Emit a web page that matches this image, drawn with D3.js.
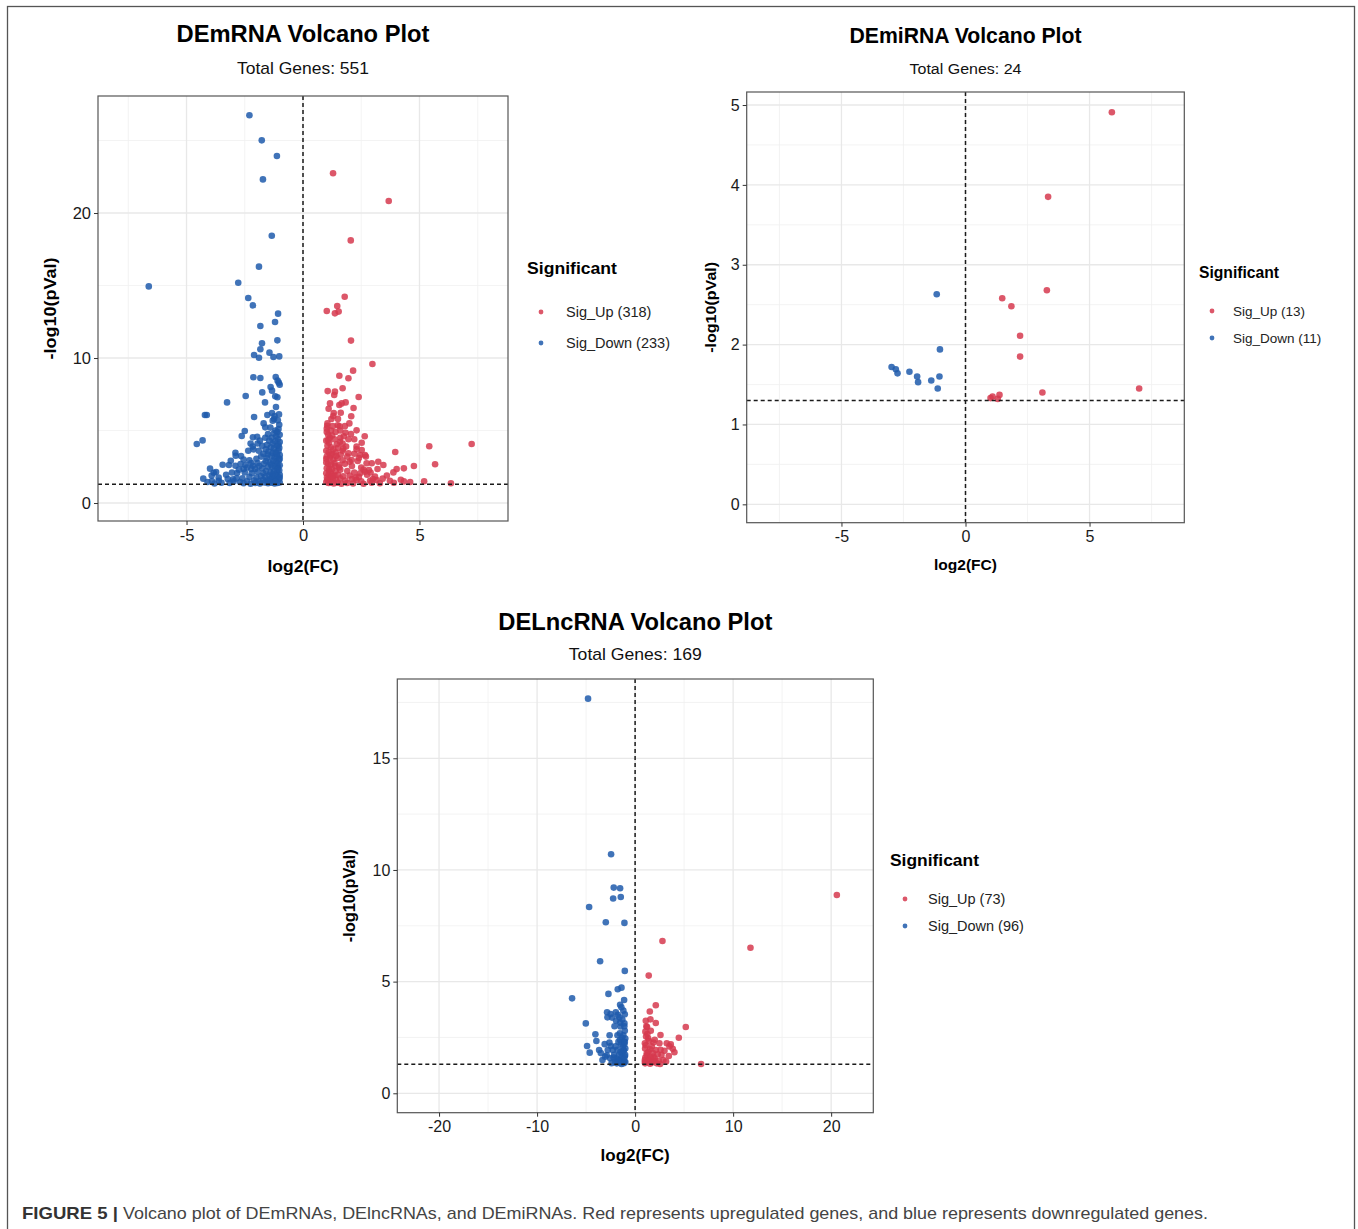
<!DOCTYPE html>
<html>
<head>
<meta charset="utf-8">
<script src="https://cdn.jsdelivr.net/npm/d3@7"></script>
<style>
  body { margin: 0; background: #fff; }
  svg text { font-family: "Liberation Sans", Arial, Helvetica, sans-serif; }
  .axis path { display: none; }
  .axis line { stroke: #333; }
  .axis text { fill: #1a1a1a; }
</style>
</head>
<body>
<div id="fig"></div>
<script>
// ---- data (log2FC, -log10 pVal) ----
const mrnaUp = [
  [1.29,22.74],[3.68,20.83],[2.05,18.11],[1.79,14.23],[1.47,13.59],[1.02,13.24],[1.37,13.08],[1.53,13.2],
  [2.06,11.2],[2.98,9.59],[2.15,9.13],[1.56,8.78],[1.95,8.6],[1.06,7.72],[1.37,7.68],[1.34,7.45],[1.7,7.91],
  [2.39,7.31],[1.16,6.87],[1.56,6.76],[1.66,6.87],[1.83,6.94],[1.32,6.21],[1.62,6.23],[2.17,6.55],[2.07,5.98],
  [1.22,5.79],[1.49,5.36],[1.57,5.29],[1.99,5.49],[1.04,5.33],[1.02,5.13],[2.3,5.01],[2.65,4.6],[2.52,4.16],
  [1.83,4.85],[2.06,4.76],[3.96,3.52],[5.42,3.91],[7.24,4.07],[5.67,2.67],[4.76,2.55],[4.33,2.39],[4.02,2.34],
  [3.88,2.11],[3.45,2.62],[3.23,2.85],[2.95,2.74],[2.73,2.74],[2.83,2.28],[2.66,2.16],[3.09,1.82],[3.42,1.68],
  [3.73,1.54],[4.33,1.49],[6.35,1.36],[3.16,1.59],[2.88,1.54],[2.3,1.59],[2.45,2.05],[2.45,3.31],[2.66,3.31],
  [2.3,3.89],[2.52,3.66],[2.09,2.97],[1.95,3.43],[1.73,3.75],[1.59,4.23],
  [1.02,4.9],[1.08,4.7],[1.15,4.5],[1.25,4.65],[1.35,4.4],[1.0,4.3],[1.12,4.15],[1.45,4.05],[1.6,4.5],[1.7,4.1],
  [1.05,3.95],[1.2,3.85],[1.3,3.7],[1.5,3.8],[1.85,3.9],[1.0,3.6],[1.1,3.5],[1.25,3.4],[1.4,3.5],[1.62,3.35],
  [1.9,3.2],[2.2,3.4],[1.02,3.2],[1.15,3.1],[1.3,3.0],[1.48,3.1],[1.7,2.95],[2.0,2.85],[2.35,2.9],[1.0,2.8],
  [1.08,2.7],[1.2,2.65],[1.35,2.75],[1.55,2.6],[1.8,2.7],[2.1,2.55],[2.5,2.45],[1.02,2.4],[1.12,2.3],[1.25,2.35],
  [1.4,2.2],[1.6,2.3],[1.9,2.2],[2.2,2.1],[2.6,2.3],[1.0,2.05],[1.1,1.95],[1.22,2.0],[1.35,1.9],[1.5,1.95],
  [1.72,1.85],[2.0,1.9],[2.4,1.8],[2.75,1.95],[1.03,1.75],[1.15,1.65],[1.28,1.7],[1.42,1.6],[1.6,1.7],[1.82,1.55],
  [2.1,1.65],[2.5,1.5],[2.95,1.4],[1.0,1.45],[1.1,1.38],[1.2,1.42],[1.32,1.35],[1.48,1.4],[1.65,1.33],[1.9,1.38],
  [2.15,1.35],[2.6,1.33],[3.3,1.36],[3.9,1.4],[4.6,1.45],[1.05,5.5],[1.2,5.0],[1.4,4.9],[1.75,4.6],[1.3,6.0],
  [1.1,6.5],[1.5,5.8],[1.8,5.3],[2.2,4.4],[2.4,3.1],[2.9,2.1],[3.2,2.35],[3.6,1.9],[4.2,1.6],[5.2,1.5],
  [1.0,3.05],[1.15,2.15],[1.38,2.55],[1.05,1.6],[1.25,1.85],[1.55,2.45],[1.7,3.6],[1.95,4.4],[2.3,3.7],[1.18,3.3],
  [1.42,3.25],[1.08,4.35],[1.28,5.3],[1.6,5.0],[2.7,3.2],[3.0,1.65],[2.25,1.75]
];
const mrnaDown = [
  [-2.3,26.74],[-1.77,25.01],[-1.12,23.93],[-1.72,22.32],[-1.34,18.43],[-1.89,16.3],[-2.78,15.19],[-6.62,14.94],
  [-2.35,14.14],[-2.15,13.63],[-1.07,13.06],[-1.2,12.48],[-1.83,12.21],[-1.1,11.22],[-1.76,11.01],[-1.83,10.6],
  [-2.1,10.21],[-1.89,10.02],[-1.44,10.37],[-1.27,10.07],[-1.02,10.11],[-2.13,8.67],[-1.83,8.62],[-1.17,8.69],
  [-1.09,8.44],[-1.04,8.3],[-1.0,8.16],[-1.39,8.0],[-1.33,7.75],[-1.75,7.63],[-1.19,7.36],[-1.1,7.29],[-2.46,7.38],
  [-3.26,6.94],[-1.63,6.94],[-1.16,6.62],[-4.21,6.07],[-4.13,6.07],[-2.1,5.93],[-1.53,6.07],[-1.33,6.21],[-1.03,6.11],
  [-1.3,5.68],[-1.24,5.79],[-1.69,5.49],[-1.62,5.22],[-2.5,4.97],[-2.63,4.62],[-2.15,4.53],[-1.97,4.57],[-4.31,4.32],
  [-4.56,4.07],[-2.9,3.47],[-2.89,3.26],[-2.16,3.89],[-2.13,3.7],[-2.66,3.24],[-3.45,2.64],[-3.99,2.37],[-3.83,2.09],
  [-3.73,2.14],[-3.92,1.89],[-4.28,1.68],[-3.91,1.52],[-3.62,1.54],[-3.62,1.75],[-3.23,1.66],[-3.0,1.63],[-2.98,1.49],
  [-3.1,2.92],[-3.18,2.62],[-2.9,2.57],[-2.68,2.69],[-2.83,2.07],[-2.55,2.34],[-2.47,2.62],[-2.22,2.76],[-2.15,2.57],
  [-2.22,2.34],
  [-1.02,5.4],[-1.05,5.1],[-1.1,4.9],[-1.0,4.7],[-1.15,4.6],[-1.25,4.8],[-1.35,4.5],[-1.08,4.4],[-1.0,4.2],[-1.2,4.25],
  [-1.3,4.1],[-1.45,4.3],[-1.55,4.0],[-1.12,3.95],[-1.02,3.8],[-1.25,3.75],[-1.38,3.85],[-1.6,3.7],[-1.75,3.95],
  [-1.05,3.6],[-1.18,3.5],[-1.3,3.45],[-1.48,3.55],[-1.7,3.4],[-1.9,3.6],[-1.0,3.3],[-1.1,3.2],[-1.22,3.15],
  [-1.35,3.25],[-1.55,3.1],[-1.8,3.2],[-2.0,3.05],[-1.03,2.95],[-1.15,2.85],[-1.28,2.9],[-1.42,2.8],[-1.6,2.9],
  [-1.68,2.7],[-1.95,2.75],[-2.3,2.95],[-1.0,2.6],[-1.08,2.5],[-1.2,2.55],[-1.33,2.45],[-1.5,2.5],[-1.75,2.4],
  [-1.88,2.55],[-2.05,2.35],[-2.4,2.45],[-1.02,2.25],[-1.12,2.15],[-1.25,2.2],[-1.4,2.1],[-1.58,2.2],[-1.7,2.05],
  [-1.95,2.15],[-2.2,2.05],[-2.5,2.1],[-1.0,1.95],[-1.1,1.85],[-1.2,1.9],[-1.32,1.8],[-1.45,1.9],[-1.62,1.8],
  [-1.8,1.85],[-2.0,1.75],[-2.3,1.8],[-2.6,1.7],[-1.03,1.65],[-1.15,1.6],[-1.28,1.55],[-1.4,1.65],[-1.55,1.55],
  [-1.72,1.6],[-1.9,1.5],[-2.1,1.55],[-2.4,1.5],[-2.7,1.45],[-1.0,1.42],[-1.1,1.38],[-1.22,1.35],[-1.35,1.4],
  [-1.5,1.36],[-1.65,1.42],[-1.85,1.35],[-2.05,1.38],[-2.25,1.33],[-2.55,1.36],[-1.05,4.0],[-1.18,5.0],[-1.4,5.2],
  [-1.08,5.7],[-1.22,6.0],[-1.5,4.75],[-1.85,4.3],[-2.25,4.1],[-2.35,3.6],[-2.55,3.0],[-2.75,2.3],[-3.05,2.1],
  [-3.3,1.95],[-3.5,1.4],[-3.8,1.35],[-4.1,1.45],[-3.15,1.38],[-2.85,1.7],[-1.95,4.1],[-1.62,4.5],[-1.0,3.05],
  [-1.1,2.7],[-1.3,2.0],[-1.0,1.75],[-1.2,1.5],[-1.45,1.5],[-1.08,2.35],[-1.38,2.65],[-1.52,3.35],[-1.12,3.4]
];
const mirnaUp = [
  [5.9,4.91],[3.33,3.85],[3.28,2.68],[1.48,2.58],[1.85,2.48],[2.2,2.11],[2.2,1.85],
  [7.0,1.45],[3.1,1.4],[1.37,1.37],[1.09,1.35],[1.01,1.33],[1.3,1.32]
];
const mirnaDown = [
  [-1.16,2.63],[-1.03,1.94],[-2.98,1.72],[-2.81,1.69],[-2.74,1.64],[-2.26,1.66],
  [-1.95,1.6],[-1.91,1.53],[-1.38,1.55],[-1.05,1.6],[-1.12,1.45]
];
const lncUp = [
  [20.58,8.88],[11.77,6.52],[2.79,6.82],[1.39,5.27],[2.11,3.94],[1.5,3.66],[5.17,2.97],[4.46,2.49],[6.73,1.31],
  [1.09,3.25],[1.56,3.31],[2.11,3.15],[1.22,2.97],[1.05,2.76],[2.59,2.61],[1.33,2.46],[1.87,2.27],[2.48,2.24],
  [3.23,2.24],[3.64,2.19],[3.84,1.99],[4.01,1.84],[3.44,1.67],[2.69,1.72],[2.11,1.94],[1.53,1.97],[1.02,2.01],
  [1.19,1.79],[1.87,1.64],[2.89,1.49],[2.21,1.34],[1.53,1.32],[1.02,1.34],[2.55,1.31],[3.16,1.42],[1.0,1.49],
  [1.36,1.54],[1.94,1.45],[1.0,2.24],[1.12,2.54],
  [1.05,1.6],[1.2,1.7],[1.35,1.85],[1.6,1.6],[1.8,1.8],[2.0,1.55],[2.3,1.75],[2.6,1.95],[1.1,2.15],[1.4,2.35],
  [1.7,2.1],[2.0,2.4],[1.25,2.65],[1.6,2.8],[1.0,1.4],[1.4,1.45],[1.7,1.38],[2.4,1.45],[3.0,1.9],[3.5,2.1],[1.15,3.0]
];
const lncDown = [
  [-4.8,17.67],[-2.45,10.7],[-2.18,9.21],[-1.53,9.18],[-2.24,8.72],[-1.46,8.79],[-4.69,8.34],[-2.99,7.66],
  [-1.09,7.63],[-3.57,5.91],[-1.05,5.48],[-6.43,4.25],[-2.72,4.45],[-1.77,4.66],[-1.39,4.73],[-1.12,4.18],
  [-1.53,3.96],[-2.86,3.63],[-2.82,3.4],[-2.35,3.39],[-1.97,3.63],[-1.77,3.51],[-1.05,3.54],[-1.94,3.25],
  [-1.53,3.16],[-1.09,3.13],[-1.5,2.99],[-5.03,3.13],[-4.05,2.64],[-3.95,2.34],[-3.67,1.94],[-4.9,2.12],
  [-4.63,1.82],[-3.33,1.49],[-3.06,1.64],[-2.62,2.27],[-2.48,2.12],[-2.28,1.94],[-1.56,2.69],[-1.53,2.39],
  [-1.16,2.31],[-1.19,1.94],[-1.02,1.72],[-1.53,1.49],[-1.87,1.34],[-1.39,1.31],[-1.09,1.42],[-2.14,1.72],
  [-2.79,1.94],[-2.55,1.57],
  [-1.05,2.8],[-1.2,2.6],[-1.35,2.5],[-1.0,2.45],[-1.1,2.2],[-1.25,2.1],[-1.45,2.2],[-1.7,2.3],[-1.0,2.0],
  [-1.15,1.9],[-1.3,1.8],[-1.5,1.85],[-1.8,1.95],[-2.0,2.1],[-1.05,1.65],[-1.2,1.55],[-1.4,1.6],[-1.65,1.7],
  [-1.9,1.55],[-2.2,1.6],[-1.0,1.4],[-1.15,1.35],[-1.3,1.42],[-1.55,1.38],[-1.75,1.45],[-2.05,1.4],[-2.4,1.35],
  [-1.1,3.0],[-1.3,3.3],[-1.6,3.4],[-2.1,3.0],[-2.6,2.6],[-3.1,2.2],[-3.5,1.8],[-2.9,1.7],[-1.2,3.7],[-1.4,3.85],
  [-2.5,3.55],[-1.8,2.6],[-1.05,2.3]
];

const panelTitles = ["DEmRNA Volcano Plot", "DEmiRNA Volcano Plot", "DELncRNA Volcano Plot"];
const totalGenes = [551, 24, 169];
const upCounts = [318, 13, 73];
const downCounts = [233, 11, 96];
const xTicks = [[-5, 0, 5], [-5, 0, 5], [-20, -10, 0, 10, 20]];
const xMinor = [[-7.5, -2.5, 2.5, 7.5], [-7.5, -2.5, 2.5, 7.5], [-15, -5, 5, 15]];
const yTicks = [[0, 10, 20], [0, 1, 2, 3, 4, 5], [0, 5, 10, 15]];
const yMinor = [[5, 15, 25], [0.5, 1.5, 2.5, 3.5, 4.5], [2.5, 7.5, 12.5, 17.5]];
const pThreshold = -Math.log10(0.05);

const RED = "#d63a4f", BLUE = "#1f5aab";

const W = 1358, H = 1229;
const svg = d3.select("#fig").append("svg").attr("width", W).attr("height", H);
svg.append("rect").attr("width", W).attr("height", H).attr("fill", "#fff");
// figure frame
svg.append("rect").attr("x", 7.5).attr("y", 6.5).attr("width", 1347).attr("height", 1240)
  .attr("fill", "none").attr("stroke", "#555").attr("stroke-width", 1.3);

// layout of each panel (pixel box, domains, text sizes)
const layout = [
  { left: 98, right: 508, top: 96, bottom: 521, xDom: [-8.8, 8.8], yDom: [-1.24, 28.07],
    titleY: 42, titleSize: 24, titleLen: 253, subY: 74, subSize: 17, subLen: 132,
    tickSize: 16.5, labSize: 17, xLabY: 572, xLabLen: 71, yLabX: 56, yLabLen: 102,
    legX: 527, legY: 274, legSize: 17, legLen: 90, itemY: [312, 343], itemSize: 14.5, dotX: 541, txtX: 566 },
  { left: 746.7, right: 1184.3, top: 92, bottom: 522.7, xDom: [-8.82, 8.82], yDom: [-0.23, 5.163],
    titleY: 43, titleSize: 21.5, titleLen: 232, subY: 74, subSize: 15.5, subLen: 112,
    tickSize: 16, labSize: 15.5, xLabY: 570, xLabLen: 63, yLabX: 716, yLabLen: 91,
    legX: 1199, legY: 278, legSize: 16, legLen: 80, itemY: [311, 338], itemSize: 13.5, dotX: 1212, txtX: 1233 },
  { left: 397.3, right: 873.3, top: 679, bottom: 1112.7, xDom: [-24.26, 24.3], yDom: [-0.869, 18.55],
    titleY: 630, titleSize: 24, titleLen: 274, subY: 660, subSize: 17, subLen: 133,
    tickSize: 16, labSize: 17, xLabY: 1161, xLabLen: 69, yLabX: 355, yLabLen: 93,
    legX: 890, legY: 866, legSize: 17, legLen: 89, itemY: [899, 926], itemSize: 14.5, dotX: 905, txtX: 928 }
];
const panelData = [[mrnaUp, mrnaDown], [mirnaUp, mirnaDown], [lncUp, lncDown]];

layout.forEach((p, i) => drawVolcano(p, i));

function drawVolcano(p, i) {
  const x = d3.scaleLinear().domain(p.xDom).range([p.left, p.right]);
  const y = d3.scaleLinear().domain(p.yDom).range([p.bottom, p.top]);
  const g = svg.append("g");
  const cx = (p.left + p.right) / 2;

  // grid: minor then major
  g.append("g").selectAll("line").data(xMinor[i]).join("line")
    .attr("x1", d => x(d)).attr("x2", d => x(d)).attr("y1", p.top).attr("y2", p.bottom)
    .attr("stroke", "#f0f0f0").attr("stroke-width", 0.8);
  g.append("g").selectAll("line").data(yMinor[i]).join("line")
    .attr("y1", d => y(d)).attr("y2", d => y(d)).attr("x1", p.left).attr("x2", p.right)
    .attr("stroke", "#f0f0f0").attr("stroke-width", 0.8);
  g.append("g").selectAll("line").data(xTicks[i]).join("line")
    .attr("x1", d => x(d)).attr("x2", d => x(d)).attr("y1", p.top).attr("y2", p.bottom)
    .attr("stroke", "#e8e8e8").attr("stroke-width", 1.3);
  g.append("g").selectAll("line").data(yTicks[i]).join("line")
    .attr("y1", d => y(d)).attr("y2", d => y(d)).attr("x1", p.left).attr("x2", p.right)
    .attr("stroke", "#e8e8e8").attr("stroke-width", 1.3);

  // points
  const [up, down] = panelData[i];
  g.append("g").selectAll("circle").data(down).join("circle")
    .attr("cx", d => x(d[0])).attr("cy", d => y(d[1])).attr("r", 3.3)
    .attr("fill", BLUE).attr("fill-opacity", 0.85);
  g.append("g").selectAll("circle").data(up).join("circle")
    .attr("cx", d => x(d[0])).attr("cy", d => y(d[1])).attr("r", 3.3)
    .attr("fill", RED).attr("fill-opacity", 0.85);

  // threshold lines
  g.append("line").attr("x1", x(0)).attr("x2", x(0)).attr("y1", p.top).attr("y2", p.bottom)
    .attr("stroke", "#1a1a1a").attr("stroke-width", 1.5).attr("stroke-dasharray", "4,3");
  g.append("line").attr("x1", p.left).attr("x2", p.right).attr("y1", y(pThreshold)).attr("y2", y(pThreshold))
    .attr("stroke", "#1a1a1a").attr("stroke-width", 1.5).attr("stroke-dasharray", "4,3");

  // panel border
  g.append("rect").attr("x", p.left).attr("y", p.top)
    .attr("width", p.right - p.left).attr("height", p.bottom - p.top)
    .attr("fill", "none").attr("stroke", "#555").attr("stroke-width", 1.2);

  // axes
  const xAxis = g.append("g").attr("class", "axis")
    .attr("transform", `translate(0,${p.bottom})`)
    .call(d3.axisBottom(x).tickValues(xTicks[i]).tickSize(4).tickPadding(4).tickFormat(d => String(d)));
  const yAxis = g.append("g").attr("class", "axis")
    .attr("transform", `translate(${p.left},0)`)
    .call(d3.axisLeft(y).tickValues(yTicks[i]).tickSize(4).tickPadding(3).tickFormat(d => String(d)));
  [xAxis, yAxis].forEach(a => a.attr("font-size", p.tickSize).attr("font-family", null));

  // titles
  g.append("text").attr("x", cx).attr("y", p.titleY).attr("text-anchor", "middle")
    .attr("font-weight", "bold").attr("font-size", p.titleSize)
    .attr("textLength", p.titleLen).attr("lengthAdjust", "spacingAndGlyphs")
    .text(panelTitles[i]);
  g.append("text").attr("x", cx).attr("y", p.subY).attr("text-anchor", "middle")
    .attr("font-size", p.subSize).attr("fill", "#111")
    .attr("textLength", p.subLen).attr("lengthAdjust", "spacingAndGlyphs")
    .text(`Total Genes: ${totalGenes[i]}`);

  // axis titles
  g.append("text").attr("x", x(0)).attr("y", p.xLabY).attr("text-anchor", "middle")
    .attr("font-weight", "bold").attr("font-size", p.labSize)
    .attr("textLength", p.xLabLen).attr("lengthAdjust", "spacingAndGlyphs")
    .text("log2(FC)");
  g.append("text").attr("transform", `translate(${p.yLabX},${(p.top + p.bottom) / 2}) rotate(-90)`)
    .attr("text-anchor", "middle").attr("font-weight", "bold").attr("font-size", p.labSize)
    .attr("textLength", p.yLabLen).attr("lengthAdjust", "spacingAndGlyphs")
    .text("-log10(pVal)");

  // legend
  g.append("text").attr("x", p.legX).attr("y", p.legY).attr("font-weight", "bold")
    .attr("font-size", p.legSize).attr("textLength", p.legLen).attr("lengthAdjust", "spacingAndGlyphs")
    .text("Significant");
  const items = [[`Sig_Up (${upCounts[i]})`, RED], [`Sig_Down (${downCounts[i]})`, BLUE]];
  items.forEach(([label, col], k) => {
    g.append("circle").attr("cx", p.dotX).attr("cy", p.itemY[k]).attr("r", 2.4)
      .attr("fill", col).attr("fill-opacity", 0.85);
    g.append("text").attr("x", p.txtX).attr("y", p.itemY[k]).attr("dy", "0.35em")
      .attr("font-size", p.itemSize).attr("fill", "#222").text(label);
  });
}

// caption
svg.append("text").attr("x", 22).attr("y", 1219).attr("font-size", 17).attr("font-weight", "bold")
  .attr("fill", "#333").attr("textLength", 96).attr("lengthAdjust", "spacingAndGlyphs")
  .text("FIGURE 5 |");
svg.append("text").attr("x", 123).attr("y", 1219).attr("font-size", 17).attr("fill", "#444")
  .attr("textLength", 1085).attr("lengthAdjust", "spacingAndGlyphs")
  .text("Volcano plot of DEmRNAs, DElncRNAs, and DEmiRNAs. Red represents upregulated genes, and blue represents downregulated genes.");
</script>
</body>
</html>
